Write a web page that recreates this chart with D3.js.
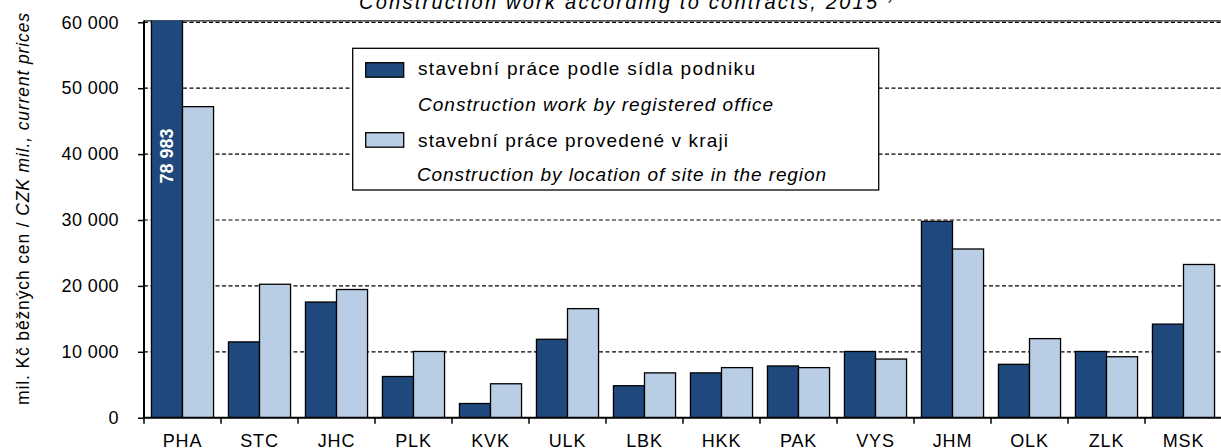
<!DOCTYPE html>
<meta charset="utf-8">
<style>
  body { margin: 0; background: #fff; }
  svg text { font-family: Arial, "Liberation Sans", sans-serif; fill: #000; }
</style>
<svg width="1221" height="448" id="chart"></svg>

<script src="https://d3js.org/d3.v7.min.js"></script>
<script>

// regions (kraje)
var regions = ["PHA","STC","JHC","PLK","KVK","ULK","LBK","HKK","PAK","VYS","JHM","OLK","ZLK","MSK"];

// stavebni prace podle sidla podniku (mil. Kc)
var byOffice = [78983, 11500, 17550, 6250, 2150, 11900, 4850, 6800, 7850, 10050, 29800, 8100, 10050, 14200];

// stavebni prace provedene v kraji (mil. Kc)
var bySite = [47200, 20250, 19450, 10050, 5150, 16550, 6800, 7600, 7600, 8900, 25600, 12000, 9250, 23250];

var yTicks = [0, 10000, 20000, 30000, 40000, 50000, 60000];

var seriesKeys = ["office", "site"];
var seriesColors = ["#1F497D", "#B9CDE5"];
var legendCz = ["stavební práce podle sídla podniku", "stavební práce provedené v kraji"];
var legendEn = ["Construction work by registered office", "Construction by location of site in the region"];

var titleText = "Construction work according to contracts, 2015";
var yLabelCz = "mil. Kč běžných cen / ";
var yLabelEn = "CZK mil., current prices";

var svg = d3.select("#chart");

var plotLeft = 144, plotRight = 1222, plotTop = 22.3, plotBottom = 417.7;

var x = d3.scaleBand().domain(regions).range([plotLeft, plotRight]).padding(0);
var xSub = d3.scaleBand().domain(seriesKeys).range([0, x.bandwidth()]).paddingInner(0).paddingOuter(0.24);
var y = d3.scaleLinear().domain([0, 60000]).range([plotBottom, plotTop]);
var color = d3.scaleOrdinal().domain(seriesKeys).range(seriesColors);

var rows = regions.map(function(r, i) { return {region: r, office: byOffice[i], site: bySite[i]}; });

var fmt = function(d) { return d3.format(",")(d).replace(/,/g, "\u00a0"); };

// title (cut at the top of the picture)
var title = svg.append("text")
  .attr("x", 359).attr("y", 8.5)
  .style("font-size", "20px").style("font-style", "italic");
title.append("tspan").text(titleText)
  .attr("textLength", 518).attr("lengthAdjust", "spacing");
title.append("tspan").text(" 1)").attr("dy", -9).style("font-size", "12px");

// clip for bars
svg.append("clipPath").attr("id", "plotclip")
  .append("rect").attr("x", plotLeft).attr("y", 20.5).attr("width", plotRight - plotLeft).attr("height", plotBottom - 20.5);

// top border line
svg.append("line")
  .attr("x1", plotLeft).attr("x2", plotRight).attr("y1", 20.8).attr("y2", 20.8)
  .attr("stroke", "#222").attr("stroke-width", 1.2);

// gridlines
svg.append("g").selectAll("line")
  .data(yTicks.filter(function(d) { return d > 0; }))
  .enter().append("line")
  .attr("x1", plotLeft).attr("x2", plotRight)
  .attr("y1", function(d) { return y(d); }).attr("y2", function(d) { return y(d); })
  .attr("stroke", "#000").attr("stroke-width", 1.2)
  .attr("stroke-dasharray", "4,2.5");

// bars
var groups = svg.append("g").attr("clip-path", "url(#plotclip)")
  .selectAll("g").data(rows).enter().append("g")
  .attr("transform", function(d) { return "translate(" + x(d.region) + ",0)"; });

groups.selectAll("rect")
  .data(function(d) { return seriesKeys.map(function(k) { return {key: k, value: d[k]}; }); })
  .enter().append("rect")
  .attr("x", function(d) { return xSub(d.key); })
  .attr("y", function(d) { return y(d.value); })
  .attr("width", xSub.bandwidth())
  .attr("height", function(d) { return y(0) - y(d.value); })
  .attr("fill", function(d) { return color(d.key); })
  .attr("stroke", "#000").attr("stroke-width", 1.3);

// value label for the clipped PHA bar
svg.append("text")
  .attr("transform", "translate(" + (x("PHA") + xSub("office") + xSub.bandwidth() / 2 + 6) + "," + y(39700) + ") rotate(-90)")
  .attr("text-anchor", "middle")
  .style("font-size", "18px").style("font-weight", "bold").style("fill", "#fff")
  .text(fmt(byOffice[0]));

// y axis
var yAxis = svg.append("g")
  .attr("transform", "translate(" + plotLeft + ",0)")
  .call(d3.axisLeft(y).tickValues(yTicks).tickSize(6).tickSizeOuter(0).tickPadding(19).tickFormat(fmt));
yAxis.select(".domain").remove();
yAxis.selectAll(".tick line").attr("stroke", "#000").attr("stroke-width", 1.5);
yAxis.selectAll("text").style("font-size", "18px").style("letter-spacing", "0.4px").attr("fill", "#000");
svg.append("line").attr("x1", plotLeft).attr("x2", plotLeft).attr("y1", 20.5).attr("y2", plotBottom + 1)
  .attr("stroke", "#000").attr("stroke-width", 2);

// x axis
var xAxis = svg.append("g")
  .attr("transform", "translate(0," + plotBottom + ")")
  .call(d3.axisBottom(x).tickSize(0).tickSizeOuter(0));
xAxis.select(".domain").remove();
xAxis.selectAll("text").attr("y", 29).attr("dy", 0)
  .style("font-size", "18px").style("letter-spacing", "0.8px").attr("fill", "#000");
svg.append("line").attr("x1", plotLeft).attr("x2", plotRight).attr("y1", plotBottom).attr("y2", plotBottom)
  .attr("stroke", "#000").attr("stroke-width", 2);
svg.append("g").selectAll("line").data(regions).enter().append("line")
  .attr("x1", function(d) { return x(d); }).attr("x2", function(d) { return x(d); })
  .attr("y1", plotBottom).attr("y2", plotBottom + 6)
  .attr("stroke", "#000").attr("stroke-width", 1.5);

// y axis title
var yl = svg.append("text")
  .attr("transform", "translate(29,209) rotate(-90)")
  .attr("text-anchor", "middle")
  .attr("textLength", 392).attr("lengthAdjust", "spacing")
  .style("font-size", "17.5px");
yl.append("tspan").text(yLabelCz);
yl.append("tspan").text(yLabelEn).style("font-style", "italic");

// legend
var leg = svg.append("g");
leg.append("rect")
  .attr("x", 352.7).attr("y", 48.3).attr("width", 526).attr("height", 141.7)
  .attr("fill", "#fff").attr("stroke", "#000").attr("stroke-width", 1.3);

var legItems = leg.selectAll(".item").data(seriesKeys).enter().append("g")
  .attr("transform", function(d, i) { return "translate(0," + (i * 70) + ")"; });

legItems.append("rect")
  .attr("x", 365.7).attr("y", 62.7).attr("width", 38).attr("height", 14.5)
  .attr("fill", function(d) { return color(d); })
  .attr("stroke", "#000").attr("stroke-width", 1.3);

var czLen = [337, 310], enLen = [355, 409], czY = [75, 77];
legItems.append("text")
  .attr("x", 418).attr("y", function(d, i) { return czY[i]; })
  .attr("textLength", function(d, i) { return czLen[i]; }).attr("lengthAdjust", "spacing")
  .style("font-size", "19px")
  .text(function(d, i) { return legendCz[i]; });
legItems.append("text")
  .attr("x", function(d, i) { return i ? 417 : 418; })
  .attr("y", 110.5)
  .attr("textLength", function(d, i) { return enLen[i]; }).attr("lengthAdjust", "spacing")
  .style("font-size", "19px").style("font-style", "italic")
  .text(function(d, i) { return legendEn[i]; });

</script>
